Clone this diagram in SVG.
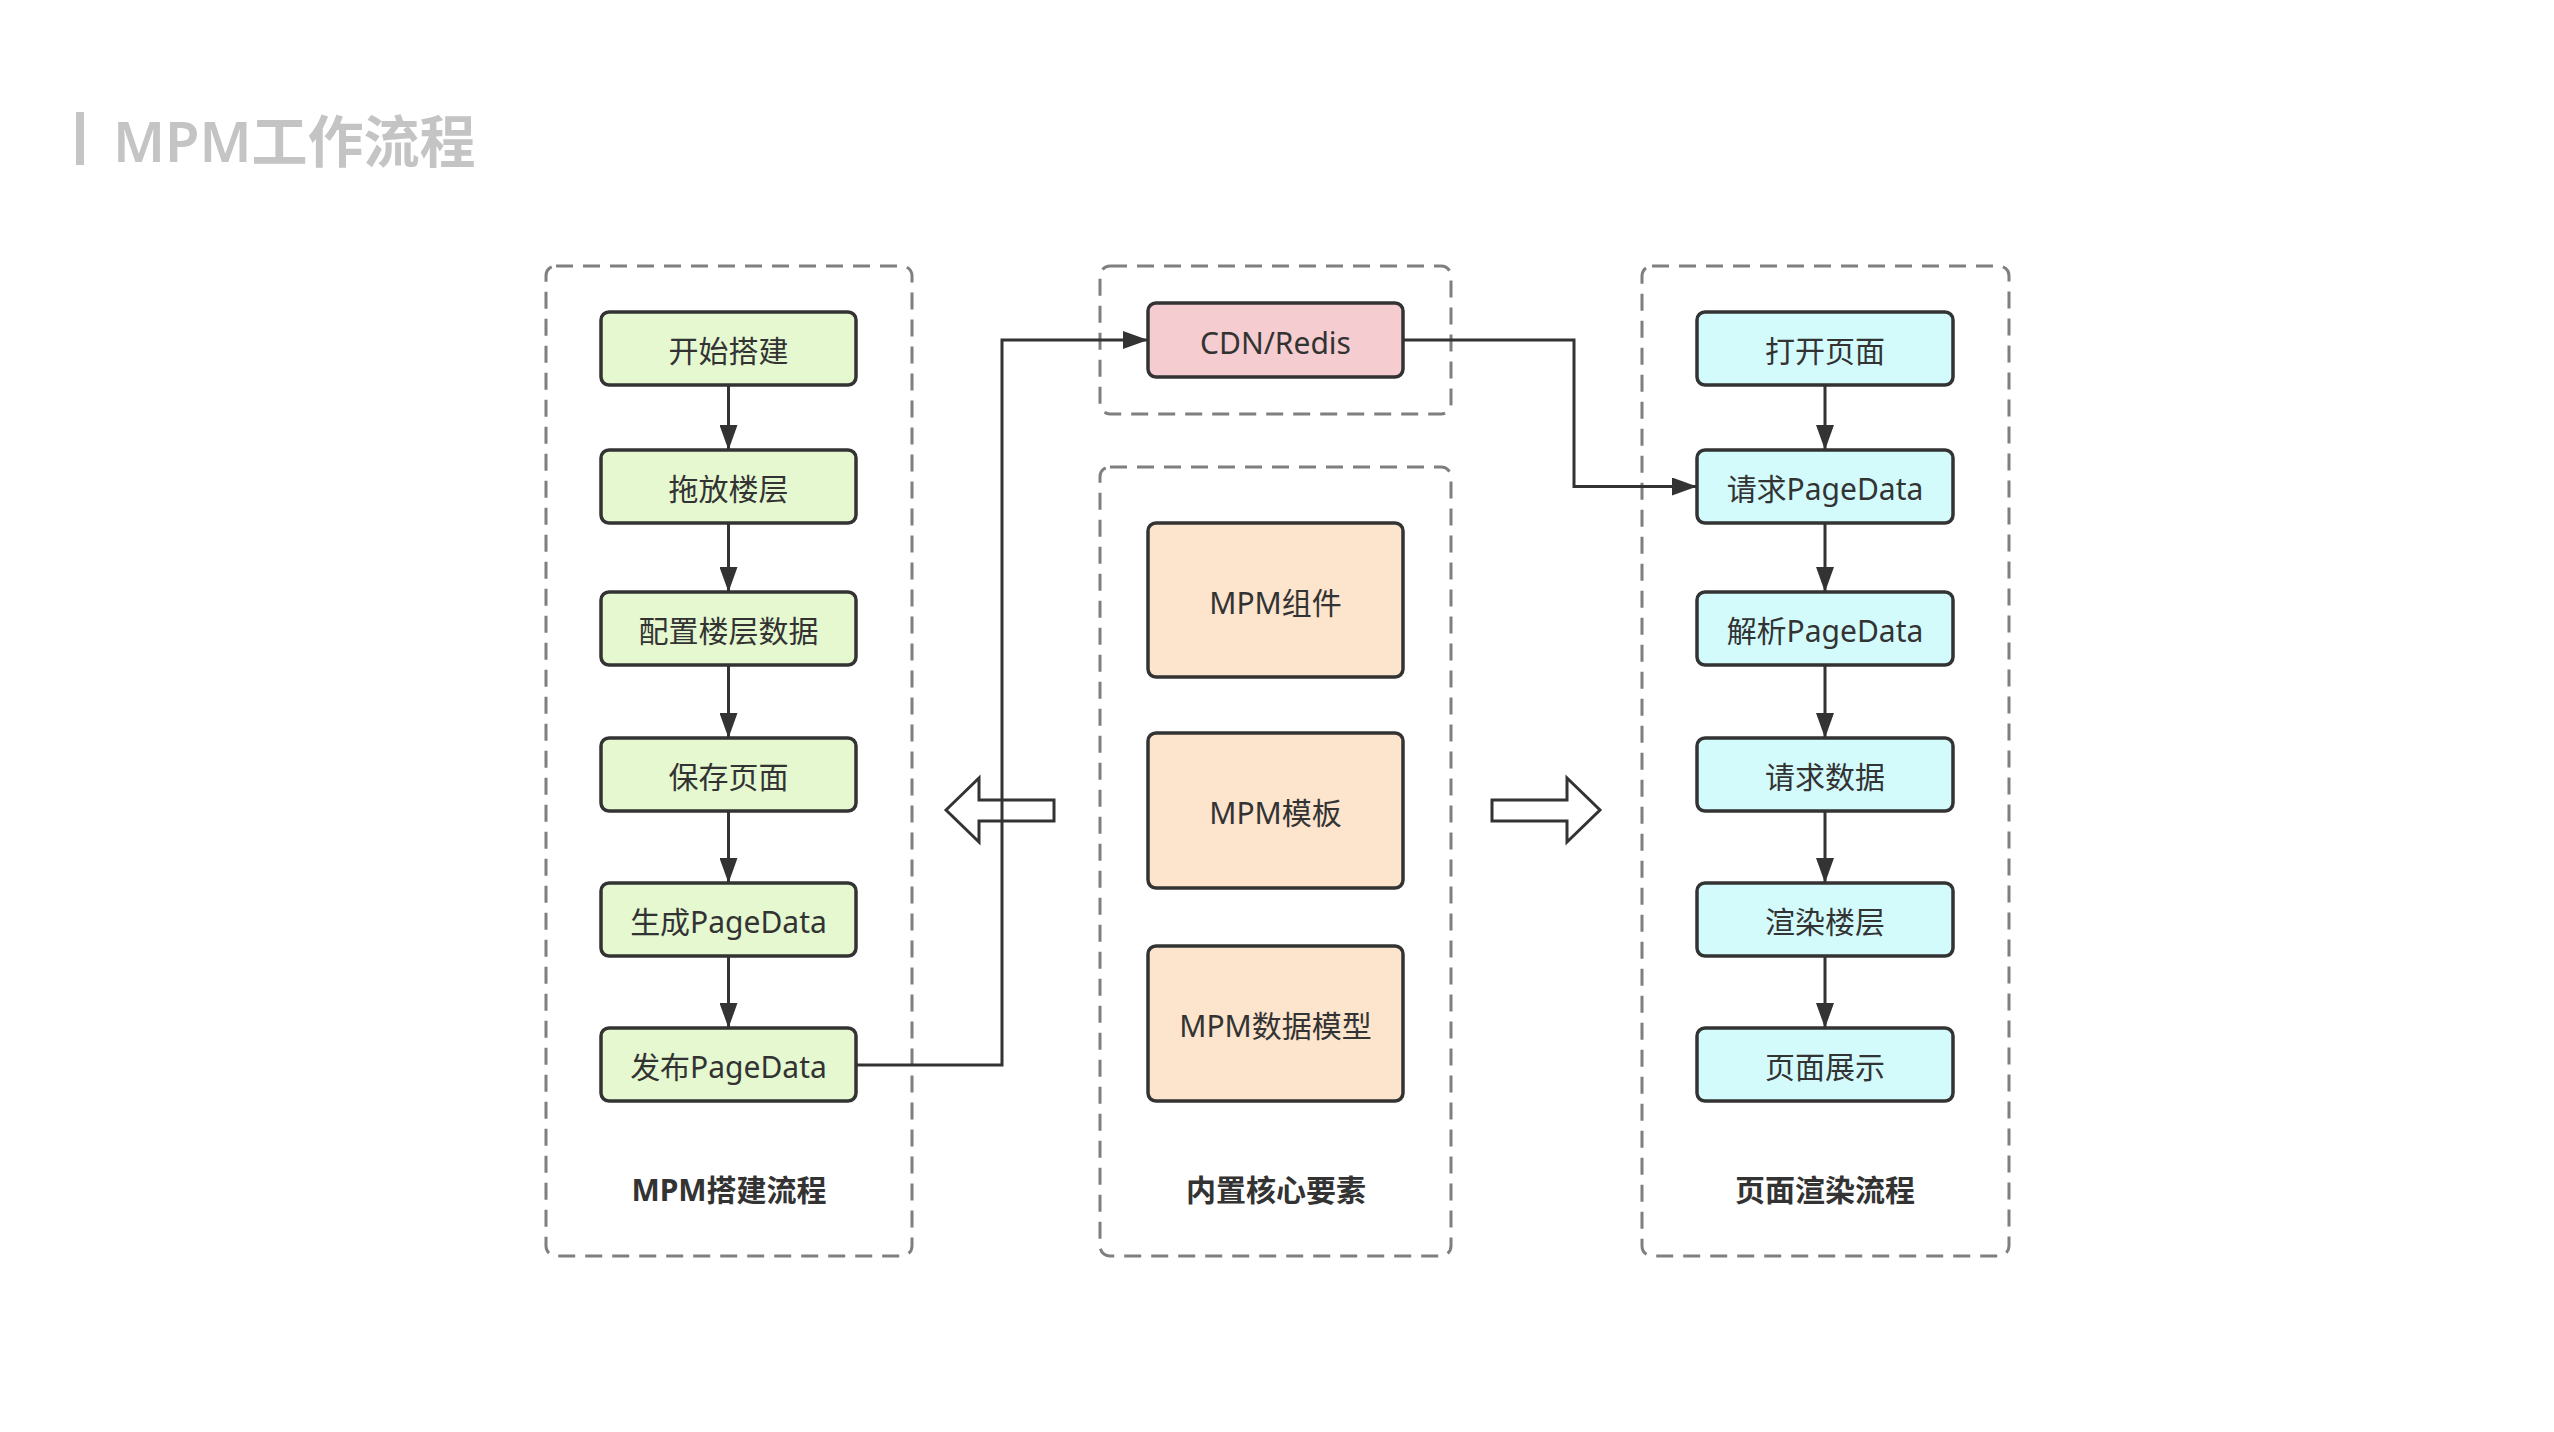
<svg xmlns="http://www.w3.org/2000/svg" width="2554" height="1432" viewBox="0 0 2554 1432">
<defs>
<style>
.bg{fill:#ffffff}
.grp{fill:none;stroke:#7f7f7f;stroke-width:3;stroke-dasharray:17 10}
.node{stroke:#333333;stroke-width:3.5}
.g{fill:#e5f8d0}
.c{fill:#d3fbfc}
.p{fill:#f5cdd0}
.o{fill:#fce4cd}
.t{font-family:"Noto Sans","Noto Sans CJK SC",sans-serif;font-size:30px;fill:#333333;text-anchor:middle;dominant-baseline:central}
.lb{font-family:"Noto Sans","Noto Sans CJK SC",sans-serif;font-size:30px;font-weight:bold;fill:#333333;text-anchor:middle;dominant-baseline:central}
.edge{fill:none;stroke:#333333;stroke-width:3}
.blk{fill:#ffffff;stroke:#333333;stroke-width:3;stroke-linejoin:miter}
</style>
<marker id="ah" viewBox="0 0 25 18" refX="25" refY="9" markerWidth="25" markerHeight="18" markerUnits="userSpaceOnUse" orient="auto">
<path d="M0,0 L25,9 L0,18 Z" fill="#333333"/>
</marker>
</defs>
<rect class="bg" x="0" y="0" width="2554" height="1432"/>

<g id="title">
<rect x="76" y="112" width="8" height="53" fill="#c4c4c4"/>
<text x="113" y="140" font-family="'Noto Sans','Noto Sans CJK SC',sans-serif" font-size="56" font-weight="600" fill="#c4c4c4" dominant-baseline="central">MPM工作流程</text>
</g>

<g id="groups">
<g id="group-build"><rect class="grp" x="546" y="266" width="366" height="990" rx="10"/><text class="lb" x="729" y="1189">MPM搭建流程</text></g>
<g id="group-cache"><rect class="grp" x="1100" y="266" width="351" height="148" rx="10"/></g>
<g id="group-core"><rect class="grp" x="1100" y="467" width="351" height="789" rx="10"/><text class="lb" x="1276" y="1189">内置核心要素</text></g>
<g id="group-render"><rect class="grp" x="1642" y="266" width="367" height="990" rx="10"/><text class="lb" x="1825" y="1189">页面渲染流程</text></g>
</g>

<g id="block-arrows">
<polygon class="blk" points="946,810 979,778 979,800 1054,800 1054,821 979,821 979,842"/>
<polygon class="blk" points="1492,800 1567,800 1567,778 1600,810 1567,842 1567,821 1492,821"/>
</g>

<g id="n1"><rect class="node g" x="601" y="312" width="255" height="73" rx="8"/><text class="t" x="728.5" y="350.5">开始搭建</text></g>
<g id="n2"><rect class="node g" x="601" y="450" width="255" height="73" rx="8"/><text class="t" x="728.5" y="488.5">拖放楼层</text></g>
<g id="n3"><rect class="node g" x="601" y="592" width="255" height="73" rx="8"/><text class="t" x="728.5" y="630.5">配置楼层数据</text></g>
<g id="n4"><rect class="node g" x="601" y="738" width="255" height="73" rx="8"/><text class="t" x="728.5" y="776.5">保存页面</text></g>
<g id="n5"><rect class="node g" x="601" y="883" width="255" height="73" rx="8"/><text class="t" x="728.5" y="921.5">生成PageData</text></g>
<g id="n6"><rect class="node g" x="601" y="1028" width="255" height="73" rx="8"/><text class="t" x="728.5" y="1066.5">发布PageData</text></g>

<g id="cdn"><rect class="node p" x="1148" y="303" width="255" height="74" rx="8"/><text class="t" x="1275.5" y="342">CDN/Redis</text></g>

<g id="m1"><rect class="node o" x="1148" y="523" width="255" height="154" rx="8"/><text class="t" x="1275.5" y="602">MPM组件</text></g>
<g id="m2"><rect class="node o" x="1148" y="733" width="255" height="155" rx="8"/><text class="t" x="1275.5" y="812.5">MPM模板</text></g>
<g id="m3"><rect class="node o" x="1148" y="946" width="255" height="155" rx="8"/><text class="t" x="1275.5" y="1025.5">MPM数据模型</text></g>

<g id="r1"><rect class="node c" x="1697" y="312" width="256" height="73" rx="8"/><text class="t" x="1825" y="350.5">打开页面</text></g>
<g id="r2"><rect class="node c" x="1697" y="450" width="256" height="73" rx="8"/><text class="t" x="1825" y="488.5">请求PageData</text></g>
<g id="r3"><rect class="node c" x="1697" y="592" width="256" height="73" rx="8"/><text class="t" x="1825" y="630.5">解析PageData</text></g>
<g id="r4"><rect class="node c" x="1697" y="738" width="256" height="73" rx="8"/><text class="t" x="1825" y="776.5">请求数据</text></g>
<g id="r5"><rect class="node c" x="1697" y="883" width="256" height="73" rx="8"/><text class="t" x="1825" y="921.5">渲染楼层</text></g>
<g id="r6"><rect class="node c" x="1697" y="1028" width="256" height="73" rx="8"/><text class="t" x="1825" y="1066.5">页面展示</text></g>

<g id="connectors">
<line class="edge" x1="728.5" y1="385" x2="728.5" y2="450" marker-end="url(#ah)"/>
<line class="edge" x1="728.5" y1="523" x2="728.5" y2="592" marker-end="url(#ah)"/>
<line class="edge" x1="728.5" y1="665" x2="728.5" y2="738" marker-end="url(#ah)"/>
<line class="edge" x1="728.5" y1="811" x2="728.5" y2="883" marker-end="url(#ah)"/>
<line class="edge" x1="728.5" y1="956" x2="728.5" y2="1028" marker-end="url(#ah)"/>
<polyline class="edge" points="856,1065 1002,1065 1002,340 1148,340" marker-end="url(#ah)"/>
<polyline class="edge" points="1403,340 1574,340 1574,486.5 1697,486.5" marker-end="url(#ah)"/>
<line class="edge" x1="1825" y1="385" x2="1825" y2="450" marker-end="url(#ah)"/>
<line class="edge" x1="1825" y1="523" x2="1825" y2="592" marker-end="url(#ah)"/>
<line class="edge" x1="1825" y1="665" x2="1825" y2="738" marker-end="url(#ah)"/>
<line class="edge" x1="1825" y1="811" x2="1825" y2="883" marker-end="url(#ah)"/>
<line class="edge" x1="1825" y1="956" x2="1825" y2="1028" marker-end="url(#ah)"/>
</g>
</svg>
